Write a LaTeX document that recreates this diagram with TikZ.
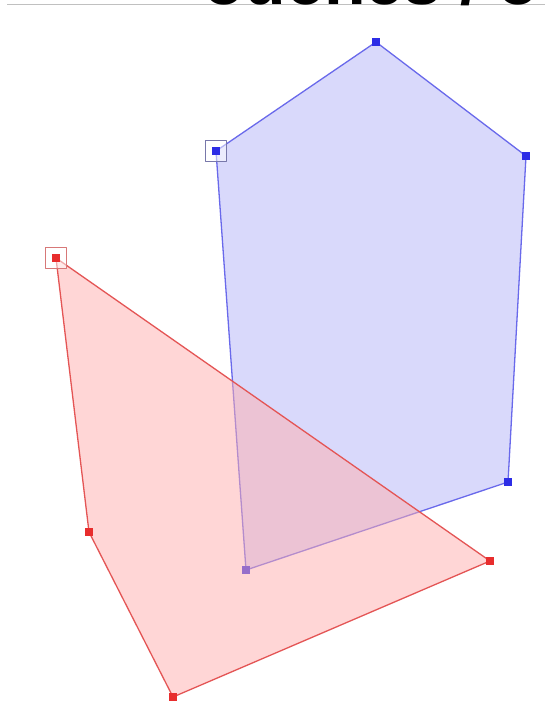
\documentclass[tikz,border=0pt]{standalone}
\usepackage{fontspec}
\setsansfont{Liberation Sans}
\usetikzlibrary{positioning}
\definecolor{bluefill}{RGB}{217,217,251}
\definecolor{blueline}{RGB}{105,105,235}
\definecolor{bluemark}{RGB}{45,45,230}
\definecolor{redfill}{RGB}{255,175,175}
\definecolor{redline}{RGB}{228,85,85}
\definecolor{redmark}{RGB}{232,45,45}
\definecolor{selblue}{RGB}{120,120,170}
\definecolor{selred}{RGB}{215,120,120}
\definecolor{topline}{RGB}{192,192,192}

\begin{document}
\begin{tikzpicture}[x=1pt, y=-1pt, line join=round,
  vmark/.style={minimum size=8pt, inner sep=0pt, outer sep=0pt},
  selbox/.style={draw, line width=1.2pt, minimum size=21pt, inner sep=0pt, fill=white, fill opacity=0.5}]
  \useasboundingbox (0,0) rectangle (545,727);
  \fill[white] (0,0) rectangle (545,727);
  \draw[topline, line width=1.6pt] (7,4.5)--(545,4.5);
  \node[anchor=base west, inner sep=0pt, font=\fontsize{68}{68}\selectfont\sffamily\bfseries] (title) at (203,4.5) {ouches / o};
  \coordinate (b1) at (216,151);
  \coordinate (b2) at (376,42);
  \coordinate (b3) at (526,156);
  \coordinate (b4) at (508,482);
  \coordinate (b5) at (246,570);
  \coordinate (r1) at (56,258);
  \coordinate (r2) at (490,561);
  \coordinate (r3) at (173,697);
  \coordinate (r4) at (89,532);
  \filldraw[fill=bluefill, draw=blueline, line width=1.3pt] (b1)--(b2)--(b3)--(b4)--(b5)--cycle;
  \node[selbox, draw=selblue] (b1sel) at (b1) {};
  \foreach \v in {b1,b2,b3,b4,b5}
    \node[vmark, fill=bluemark] (\v m) at (\v) {};
  \fill[redfill, fill opacity=0.5] (r1)--(r2)--(r3)--(r4)--cycle;
  \draw[redline, line width=1.3pt] (r1)--(r2)--(r3)--(r4)--cycle;
  \node[selbox, draw=selred] (r1sel) at (r1) {};
  \foreach \v in {r1,r2,r3,r4}
    \node[vmark, fill=redmark] (\v m) at (\v) {};
\end{tikzpicture}
\end{document}
